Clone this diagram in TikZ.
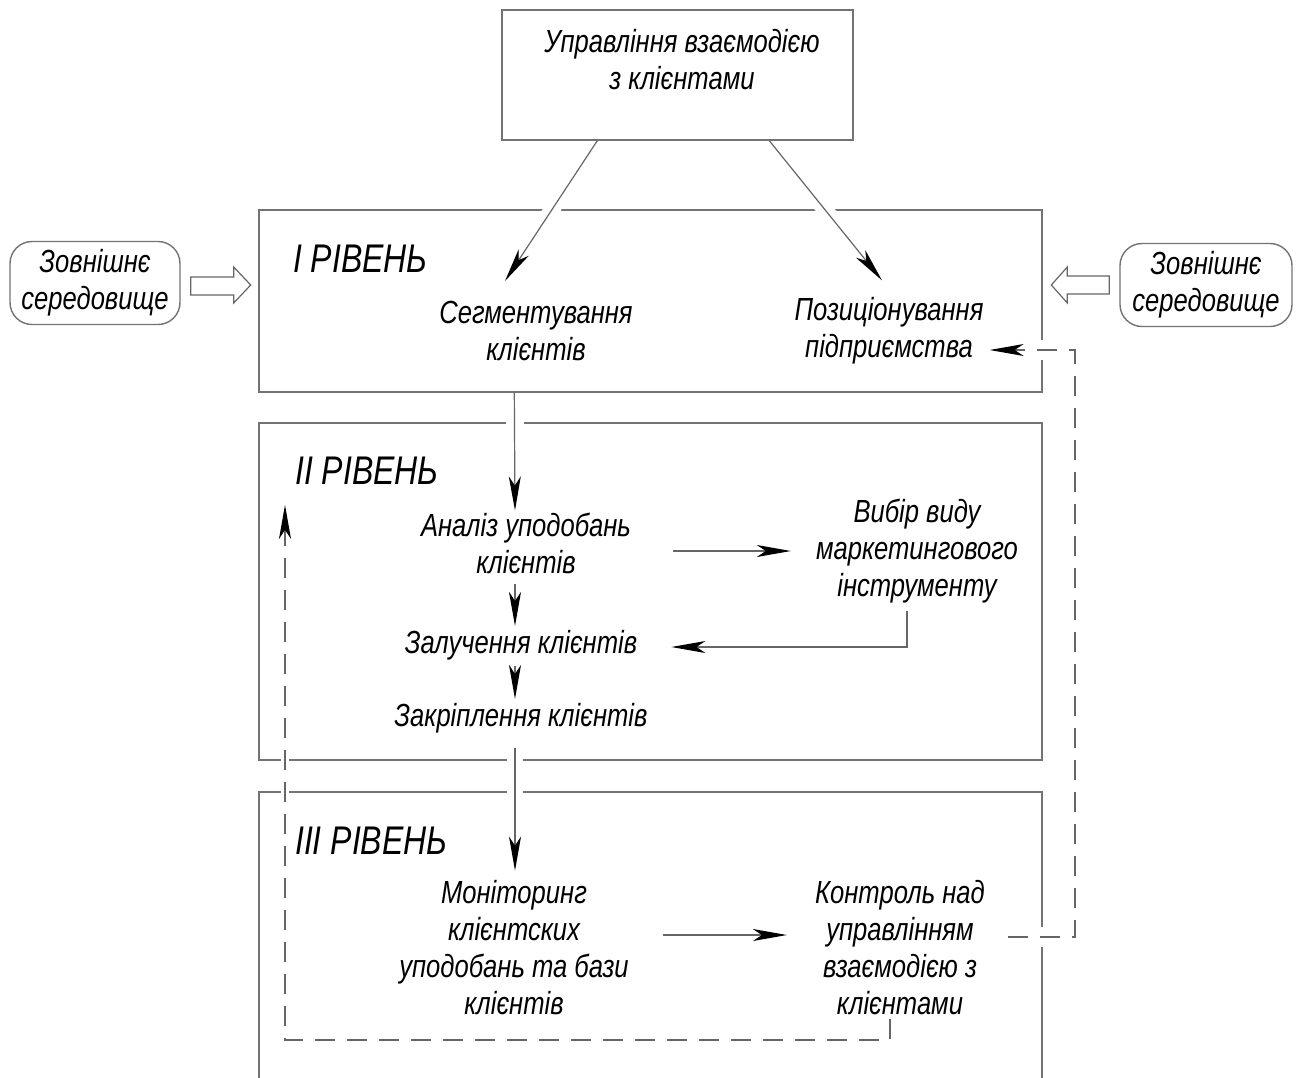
\documentclass[tikz,border=0pt]{standalone}
\usepackage{fontspec}
\setmainfont{Liberation Sans}[FakeStretch=0.8]
\usetikzlibrary{arrows.meta,calc}

\newcommand\blocktext{\itshape\fontsize{32}{37}\selectfont}
\newcommand\leveltext{\itshape\fontsize{40}{46}\selectfont}

\begin{document}
\begin{tikzpicture}[x=1pt,y=-1pt,
  edge/.style={draw=black!55, line width=1.4pt},
  box/.style={edge, rectangle, inner sep=0pt},
  envbox/.style={edge, rounded corners=22pt, inner sep=0pt, align=center,
    font=\blocktext, minimum height=83pt},
  txt/.style={align=center, font=\blocktext, inner sep=0pt},
  head/.style={anchor=west, font=\leveltext, inner sep=0pt},
  arr/.style={draw=black!60, line width=1.2pt,
    -{Stealth[black, length=34pt, width=12pt, inset=9pt]}},
  dashline/.style={arr, dash pattern=on 20pt off 12pt},
  halo/.style={draw=white, line width=16pt},
  hollow/.style={draw=black!60, line width=1.2pt, fill=white, line join=miter}
]
\useasboundingbox (0,0) rectangle (1298,1077);

% frames of the three levels and the top block
\node[box, minimum width=351pt, minimum height=130pt] (top) at (677.5,75) {};
\node[box, minimum width=783pt, minimum height=182pt] (lv1) at (650.5,301) {};
\node[box, minimum width=783pt, minimum height=337pt] (lv2) at (650.5,591.5) {};
\coordinate (l3tl) at (259,792);
\coordinate (l3tr) at (1042,792);
\draw[edge] (259,1078) -- (l3tl) -- (l3tr) -- (1042,1078);

% texts
\node[txt] (toptext) at (682,60) {Управління взаємодією\\з клієнтами};
\node[head] (h1) at (293,259) {I РІВЕНЬ};
\node[head] (h2) at (295,471) {II РІВЕНЬ};
\node[head] (h3) at (295,841) {III РІВЕНЬ};

\node[txt] (seg) at (536,331) {Сегментування\\клієнтів};
\node[txt] (pos) at (889,331) {Позиціонування\\підприємства};

\node[txt] (an)  at (526,543) {Аналіз уподобань\\клієнтів};
\node[txt] (vyb) at (917,551) {Вибір виду\\маркетингового\\інструменту};
\node[txt] (zal) at (521,645) {Залучення клієнтів};
\node[txt] (zak) at (521,718) {Закріплення клієнтів};

\node[txt] (mon) at (514,948) {Моніторинг\\клієнтских\\уподобань та бази\\клієнтів};
\node[txt] (kon) at (900,948) {Контроль над\\управлінням\\взаємодією з\\клієнтами};

% external environment
\node[envbox, minimum width=170pt] (env1) at (95,283) {Зовнішнє\\середовище};
\node[envbox, minimum width=172pt] (env2) at (1206,285) {Зовнішнє\\середовище};

\draw[hollow, shift={(env1.east)}]
  (10,-6) -- (53,-6) -- (53,-16) -- (70,2) -- (53,20) -- (53,12) -- (10,12) -- cycle;
\draw[hollow, shift={(env2.west)}]
  (-10,-9) -- (-52,-9) -- (-52,-18) -- (-68,0) -- (-52,18) -- (-52,9) -- (-10,9) -- cycle;

% from the top block into level I
\coordinate (a1s) at ($(top.south west)+(96,0)$);
\coordinate (a1e) at ($(seg.north)+(-31,-20)$);
\coordinate (a2s) at ($(top.south west)+(268,0)$);
\coordinate (a2e) at ($(pos.north)+(-7,-17)$);
\draw[halo] ($(a1s)!0.46!(a1e)$) -- ($(a1s)!0.60!(a1e)$);
\draw[halo] ($(a2s)!0.45!(a2e)$) -- ($(a2s)!0.59!(a2e)$);
\draw[arr] (a1s) -- (a1e);
\draw[arr] (a2s) -- (a2e);

% level I to level II
\coordinate (v1s) at ($(lv1.south west)+(256,0)$);
\coordinate (v1e) at ($(an.north)+(-11,-2)$);
\draw[halo, line width=18pt] (515,414) -- (515,432);
\draw[arr] (v1s) -- (v1e);

% inside level II
\draw[arr] ($(an.south)+(-11,10)$) -- ($(zal.north)+(-6,-4)$);
\draw[arr] ($(zal.south)+(-6,6)$) -- ($(zak.north)+(-6,-4)$);
\draw[arr] ($(an.east)+(42,8)$) -- ($(vyb.west)+(-25,0)$);
\draw[arr] ($(vyb.south)+(-10,8)$) |- ($(zal.east)+(34,2)$);

% level II to level III
\coordinate (v2s) at ($(zak.south)+(-6,15)$);
\coordinate (v2e) at ($(mon.north)+(1,-10)$);
\draw[halo] (515,753) -- (515,767);
\draw[halo] (515,785) -- (515,799);
\draw[arr] (v2s) -- (v2e);

% inside level III
\draw[arr] ($(mon.east)+(34,-13)$) -- ($(kon.west)+(-28,-13)$);

% feedback loops
\coordinate (fbr) at (1075,350);
\coordinate (fbl) at (285,1040);
\draw[halo, line width=20pt] (1038,350) -- (1046,350);
\draw[halo, line width=20pt] (1038,937) -- (1046,937);
\draw[halo, line width=20pt] (281,760) -- (289,760);
\draw[halo, line width=20pt] (281,792) -- (289,792);
\draw[dashline] ($(kon.east)+(23,-11)$) -| (fbr) -- ($(pos.east)+(6,19)$);
\draw[dashline] ($(kon.south)+(-10,4)$) |- (fbl) -- ($(h2.south west)+(-10,20)$);

\end{tikzpicture}
\end{document}
